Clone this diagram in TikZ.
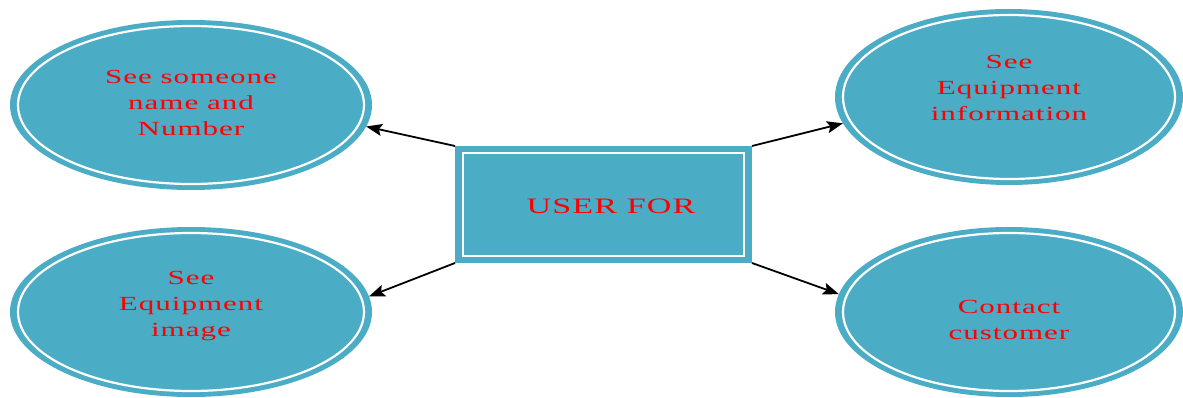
\documentclass[tikz,border=0pt]{standalone}
\usepackage{fontspec}
\setmainfont{Liberation Serif}
\newfontfamily\wideserif[FakeStretch=1.55,LetterSpace=5]{Liberation Serif}
\usetikzlibrary{shapes.geometric,arrows.meta}
\definecolor{usecase}{HTML}{4BACC6}
\definecolor{labelred}{HTML}{FF0000}
\tikzset{
  x=1pt,y=-1pt,
  oval/.style={ellipse, fill=usecase, draw=none, outer sep=0pt, inner sep=0pt,
    minimum width=362pt, minimum height=170pt},
  ovaltext/.style={align=center, inner sep=0pt, text=labelred,
    font=\wideserif\fontsize{20}{26}\selectfont},
  ovalring/.style={draw=white, line width=2.2pt},
  mainbox/.style={rectangle, fill=usecase, draw=none, outer sep=0pt,
    minimum width=297pt, minimum height=117pt},
  boxtext/.style={inner sep=0pt, text=labelred,
    font=\wideserif\fontsize{22}{26}\selectfont},
  link/.style={draw=black, line width=1.8pt, -{Stealth[length=16pt,width=12pt,inset=3pt]}}
}
\begin{document}
\begin{tikzpicture}
\useasboundingbox (0,0) rectangle (1183,398);
\node[oval] (tl) at (191,105) {};
\node[oval, minimum width=348pt, minimum height=176pt] (tr) at (1009,97) {};
\node[oval] (bl) at (191,312) {};
\node[oval, minimum width=348pt, minimum height=170pt] (br) at (1009,312) {};
\draw[ovalring] (tl.center) ellipse (173 and 79);
\draw[ovalring] (bl.center) ellipse (173 and 79);
\draw[ovalring] (tr.center) ellipse (166 and 82);
\draw[ovalring] (br.center) ellipse (166 and 79);
\node[ovaltext] (tlt) at (191,103) {See someone\\name and\\Number};
\node[ovaltext] (trt) at (1009,88) {See\\Equipment\\information};
\node[ovaltext] (blt) at (191,306) {See\\Equipment\\image};
\node[ovaltext] (brt) at (1009,320) {Contact\\customer};
\node[mainbox] (u) at (603.5,204.5) {};
\draw[draw=white, line width=2pt] ([shift={(8,7)}]u.north west) rectangle ([shift={(-8,-7)}]u.south east);
\node[boxtext] (ut) at (611,206) {USER FOR};
\draw[link] (u.north west) -- (tl.-7);
\draw[link] (u.south west) -- (bl.5);
\draw[link] (u.north east) -- (tr.-171);
\draw[link] (u.south east) -- (br.174);
\end{tikzpicture}
\end{document}
